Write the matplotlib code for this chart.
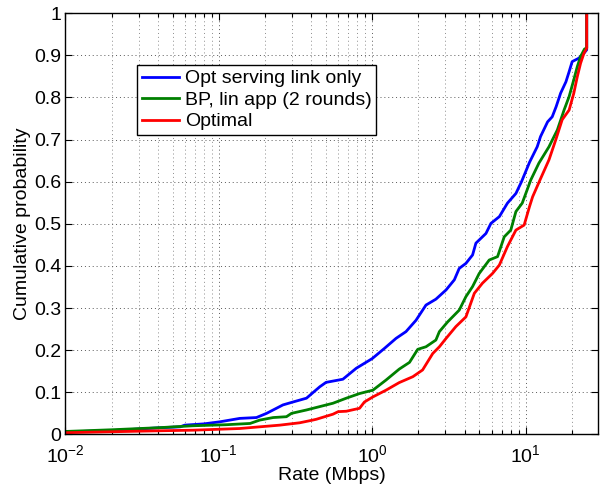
import matplotlib
matplotlib.use("Agg")
import matplotlib.pyplot as plt
from matplotlib.ticker import LogLocator, FixedLocator

plt.rcParams['font.family'] = ['Liberation Sans', 'DejaVu Sans']
plt.rcParams['mathtext.fontset'] = 'custom'
plt.rcParams['mathtext.rm'] = 'Liberation Sans'
plt.rcParams['mathtext.it'] = 'Liberation Sans:italic'

# CDF of rates (Mbps)
blue_rate = [0.01, 0.02, 0.041, 0.056, 0.06, 0.08, 0.102, 0.137, 0.176, 0.205,
             0.262, 0.305, 0.373, 0.455, 0.50, 0.644, 0.787, 1.0, 1.2, 1.43,
             1.66, 1.93, 2.24, 2.6, 3.03, 3.43, 3.69, 4.08, 4.51, 4.74,
             5.51, 5.94, 6.74, 7.61, 8.64, 9.4, 10.6, 11.9, 12.5, 13.9,
             14.9, 15.8, 16.9, 18.3, 19.2, 20.1, 22.2, 24.0, 25.0, 25.0]
blue_cdf = [0.006, 0.009, 0.0157, 0.018, 0.022, 0.025, 0.030, 0.038, 0.040, 0.05,
            0.07, 0.077, 0.086, 0.113, 0.1235, 0.131, 0.157, 0.18, 0.204, 0.228,
            0.244, 0.271, 0.307, 0.321, 0.343, 0.367, 0.394, 0.406, 0.426, 0.454,
            0.477, 0.501, 0.517, 0.549, 0.572, 0.600, 0.646, 0.683, 0.707, 0.742,
            0.754, 0.778, 0.81, 0.837, 0.861, 0.885, 0.893, 0.905, 0.913, 1.0]

green_rate = [0.01, 0.02, 0.041, 0.068, 0.112, 0.16, 0.185, 0.226, 0.276, 0.298,
              0.373, 0.455, 0.555, 0.678, 0.827, 1.01, 1.23, 1.5, 1.75, 1.98,
              2.24, 2.6, 2.74, 3.1, 3.69, 4.08, 4.51, 4.98, 5.79, 6.56,
              7.25, 8.0, 8.64, 9.5, 10.8, 12.2, 14.2, 16.1, 17.8, 19.2,
              20.6, 21.7, 22.8, 24.2, 25.0, 25.0]
green_cdf = [0.007, 0.011, 0.016, 0.0205, 0.023, 0.026, 0.034, 0.040, 0.042, 0.05,
             0.058, 0.066, 0.074, 0.086, 0.097, 0.105, 0.129, 0.155, 0.171, 0.202,
             0.208, 0.224, 0.244, 0.267, 0.295, 0.327, 0.351, 0.382, 0.414, 0.422,
             0.469, 0.485, 0.529, 0.549, 0.604, 0.644, 0.683, 0.723, 0.77, 0.802,
             0.842, 0.873, 0.897, 0.915, 0.917, 1.0]

red_rate = [0.01, 0.041, 0.068, 0.137, 0.185, 0.25, 0.337, 0.41, 0.433, 0.555,
            0.6, 0.678, 0.827, 0.89, 1.01, 1.23, 1.5, 1.84, 2.13, 2.48,
            2.74, 3.03, 3.51, 4.08, 4.63, 5.23, 6.08, 6.74, 7.61, 8.64,
            9.78, 10.6, 11.1, 12.4, 14.2, 15.7, 17.3, 19.2, 20.6, 21.7,
            22.8, 24.0, 25.0, 25.0]
red_cdf = [0.004, 0.0086, 0.01, 0.014, 0.018, 0.022, 0.0276, 0.034, 0.036, 0.048,
           0.054, 0.055, 0.062, 0.077, 0.089, 0.105, 0.123, 0.137, 0.153, 0.192,
           0.208, 0.228, 0.256, 0.279, 0.335, 0.359, 0.382, 0.402, 0.446, 0.485,
           0.497, 0.541, 0.564, 0.604, 0.652, 0.699, 0.747, 0.77, 0.81, 0.849,
           0.881, 0.905, 0.917, 1.0]

labels = ['Opt serving link only', 'BP, lin app (2 rounds)', 'Optimal']

fig = plt.figure(figsize=(6.05, 4.87), dpi=100)
ax = fig.add_axes([0.108, 0.108, 0.880, 0.865])

ax.plot(blue_rate, blue_cdf, color=(0, 0, 1), lw=2, label=labels[0])
ax.plot(green_rate, green_cdf, color=(0, 0.5, 0), lw=2, label=labels[1])
ax.plot(red_rate, red_cdf, color=(1, 0, 0), lw=2, label=labels[2])

ax.set_xscale('log')
ax.set_xlim(0.01, 29.5)
ax.set_ylim(0, 1)

ax.xaxis.set_major_locator(LogLocator(base=10, numticks=10))
ax.xaxis.set_minor_locator(LogLocator(base=10, subs=range(2, 10), numticks=20))
ax.yaxis.set_major_locator(FixedLocator([i / 10 for i in range(11)]))
ax.set_yticklabels(['0', '0.1', '0.2', '0.3', '0.4', '0.5', '0.6', '0.7', '0.8', '0.9', '1'])

ax.grid(True, which='major', axis='both', linestyle=(0, (1, 3)), color='0.35', lw=0.7)
ax.grid(True, which='minor', axis='x', linestyle=(0, (1, 3)), color='0.55', lw=0.7)

ax.tick_params(which='both', direction='in', top=True, right=True, labelsize=14, width=0.8)
ax.tick_params(which='major', length=5)
ax.tick_params(which='minor', length=3)
ax.tick_params(axis='x', which='major', pad=7)
ax.tick_params(axis='y', which='major', pad=3)
for s in ax.spines.values():
    s.set_linewidth(1.0)

ax.set_xlabel('Rate (Mbps)', fontsize=14)
ax.set_ylabel('Cumulative probability', fontsize=14)
ax.xaxis.set_label_coords(0.5, -0.078)
ax.yaxis.set_label_coords(-0.064, 0.5)

leg = ax.legend(loc='upper left', bbox_to_anchor=(0.135, 0.877), borderaxespad=0,
                fontsize=14, fancybox=False, framealpha=1, edgecolor='black',
                handlelength=1.9, handletextpad=0.3, labelspacing=0.2,
                borderpad=0.25)
leg.get_frame().set_linewidth(1.0)

fig.savefig('out.png', dpi=100)
